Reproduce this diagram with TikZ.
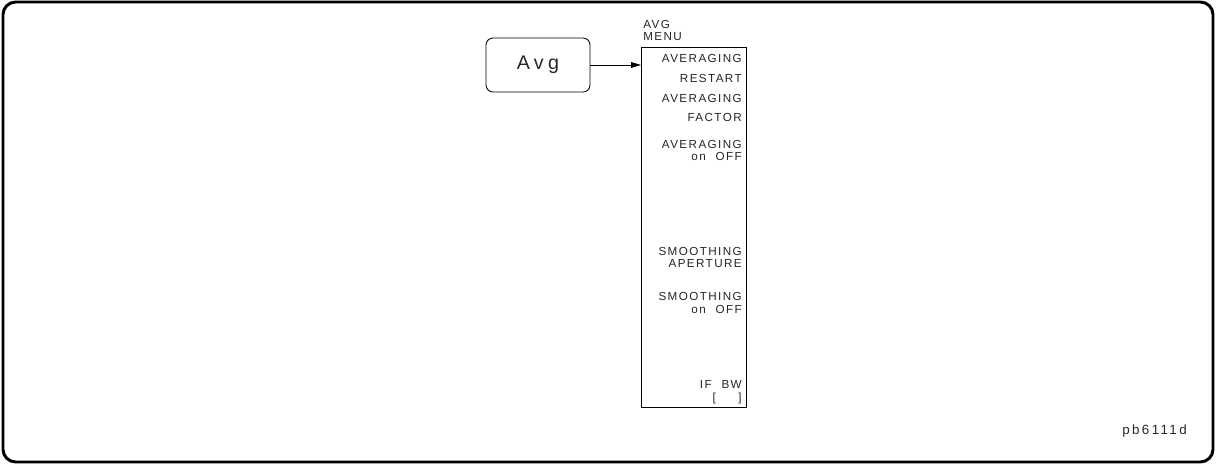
\documentclass[tikz,border=0pt]{standalone}
\usepackage{fontspec}
\newfontfamily\plotfont[LetterSpace=12]{Liberation Sans}
\usetikzlibrary{positioning}
\usetikzlibrary{arrows.meta}

\begin{document}
\begin{tikzpicture}[x=0.025cm, y=-0.025cm, >={Triangle[length=7pt,width=4pt]},
	every node/.style={font=\plotfont\fontsize{8.3}{9}\selectfont, inner sep=0pt, text=black!85}]
			\tikzset{hardkey/.style={draw, rounded corners=5pt, semithick, minimum width=2.6cm,
				minimum height=1.35cm, font=\plotfont\addfontfeatures{LetterSpace=22}\fontsize{14}{16}\selectfont},
				softkey/.style={anchor=base east},
				menubox/.style={draw, semithick}}
			\useasboundingbox (0,0) rectangle (1216,465);
			\draw[line width=2.1pt, rounded corners=9pt] (3,2) rectangle (1213,462);
			\node[hardkey] (avg) at (538,65) {Avg};
			\draw[menubox] (641,47) rectangle (746,407);
			\coordinate (menu) at (641,65);
			\draw[->,semithick] (avg.east) -- (menu);
			\node[anchor=base west] (title1) at (643,29) {AVG};
			\node[anchor=base west] (title2) at (643,41) {MENU};
			% softkey labels
			\node[softkey] (k1a) at (742,63) {AVERAGING};
			\node[softkey] (k1b) at (742,83) {RESTART};
			\node[softkey] (k2a) at (742,103) {AVERAGING};
			\node[softkey] (k2b) at (742,122) {FACTOR};
			\node[softkey] (k3a) at (742,149) {AVERAGING};
			\node[softkey] (k3b) at (742,161) {on\hspace{7pt}OFF};
			\node[softkey] (k4a) at (742,256) {SMOOTHING};
			\node[softkey] (k4b) at (742,268) {APERTURE};
			\node[softkey] (k5a) at (742,301) {SMOOTHING};
			\node[softkey] (k5b) at (742,313) {on\hspace{7pt}OFF};
			\node[softkey] (k6a) at (742,388) {IF\hspace{7pt}BW};
			\node[softkey] (k6b) at (742,401) {[\hspace{16pt}]};
			\node[anchor=base east, font=\plotfont\addfontfeatures{LetterSpace=18}\fontsize{9.5}{11}\selectfont] (fig) at (1187,434) {pb6111d};
		\end{tikzpicture}
\end{document}
